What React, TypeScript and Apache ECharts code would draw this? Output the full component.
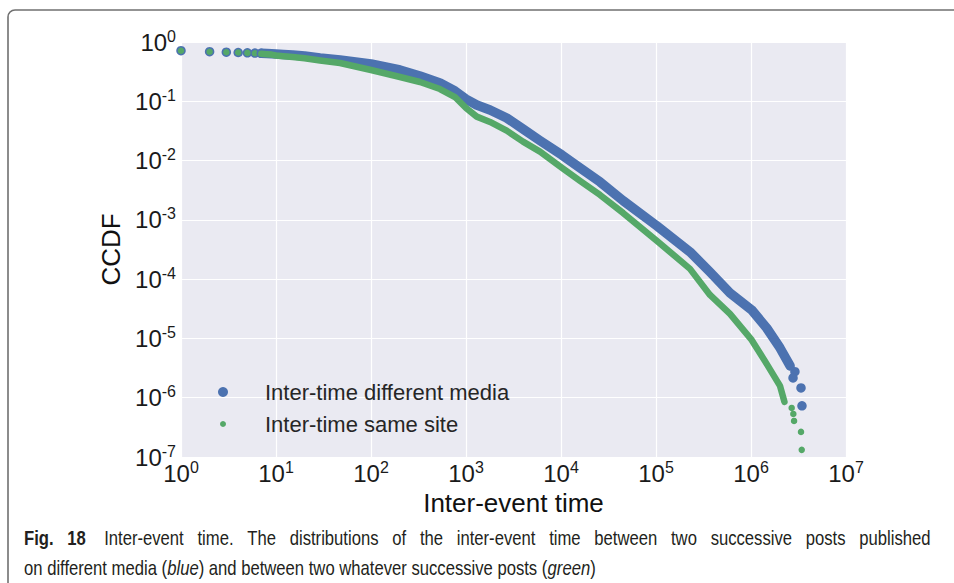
import React, { useEffect, useRef } from "react";
import * as echarts from "echarts";

// ---- data (x: inter-event time, y: CCDF) ----
const blueDotsX = [1, 2, 3, 4, 5, 6, 7, 2900000, 2770000, 3360000, 3440000];
const blueDotsY = [0.713, 0.686, 0.673, 0.665, 0.657, 0.652, 0.645, 2.75e-6, 2.16e-6, 1.46e-6, 7.3e-7];
const blueBandX = [7, 8, 9, 10, 12, 15, 20, 29.1, 47.2, 100, 202, 328, 532, 766, 1000, 1297, 1790, 2682, 3981, 6010, 10240, 15850, 25760, 44980, 102500, 228000, 370000, 601000, 1016000, 1462000, 2020000, 2580000];
const blueBandY = [0.645, 0.637, 0.632, 0.627, 0.616, 0.604, 0.581, 0.537, 0.497, 0.426, 0.337, 0.267, 0.204, 0.149, 0.109, 0.0866, 0.0714, 0.0523, 0.0341, 0.0217, 0.0124, 0.0075, 0.00436, 0.00211, 7.89e-4, 2.88e-4, 1.32e-4, 5.85e-5, 3.03e-5, 1.5e-5, 6.9e-6, 3.44e-6];

const greenDotsX = [1, 2, 3, 4, 5, 6, 7, 2680000, 2790000, 2840000, 3360000, 3420000];
const greenDotsY = [0.713, 0.686, 0.673, 0.665, 0.655, 0.645, 0.632, 6.73e-7, 5.33e-7, 4.06e-7, 2.65e-7, 1.32e-7];
const greenBandX = [7, 8, 9, 10, 12, 15, 20, 29.1, 47.2, 100, 202, 328, 532, 766, 1000, 1297, 1790, 2682, 3981, 6010, 10240, 15850, 25760, 44980, 102500, 228000, 370000, 601000, 1016000, 1462000, 2020000, 2250000];
const greenBandY = [0.632, 0.623, 0.613, 0.592, 0.576, 0.558, 0.531, 0.488, 0.443, 0.337, 0.257, 0.2116, 0.161, 0.118, 0.0771, 0.0551, 0.0448, 0.032, 0.0209, 0.01415, 0.0075, 0.00453, 0.00263, 0.00131, 4.41e-4, 1.49e-4, 5.42e-5, 2.59e-5, 9.44e-6, 3.72e-6, 1.58e-6, 8.5e-7];

const seriesNames = ["Inter-time different media", "Inter-time same site"];
const xAxisTitle = "Inter-event time";
const yAxisTitle = "CCDF";
const captionBoldWords = ["Fig.", "18"];
const captionLine1Words = ["Inter-event", "time.", "The", "distributions", "of", "the", "inter-event", "time", "between", "two", "successive", "posts", "published"];
const captionLine2Parts: [string, boolean][] = [
  ["on different media (", false],
  ["blue", true],
  [") and between two whatever successive posts (", false],
  ["green", true],
  [")", false],
];

const BLUE = "#4C72B0";
const GREEN = "#55A868";
const FONT = '"Liberation Sans", Arial, sans-serif';
const CAP_SIZE = 21;
const CAP_LINE1_WIDTH = 907; // justified first line
const CAP_LINE2_WIDTH = 572; // natural last line

const zip = (xs: number[], ys: number[]) => xs.map((x, i) => [x, ys[i]]);

const expLabel = (v: number) => {
  const e = Math.round(Math.log10(v));
  return `{b|10}{s|${e}}`;
};

const labelRich = {
  b: { fontSize: 24, lineHeight: 28, fontFamily: FONT, color: "#1a1a1a" },
  s: { fontSize: 16, lineHeight: 17, verticalAlign: "top", fontFamily: FONT, color: "#1a1a1a" },
};

function captionLayout() {
  // returns horizontal scale and the justified word gap (unscaled units)
  let k = 0.78;
  let gap = 8;
  let space = 5.8;
  try {
    const ctx = document.createElement("canvas").getContext("2d");
    if (!ctx) return { k, gap, space };
    const m = (t: string, pre: string) => {
      ctx.font = `${pre}${CAP_SIZE}px ${FONT}`;
      return ctx.measureText(t).width;
    };
    const w2 = captionLine2Parts.reduce((s, [t, it]) => s + m(t, it ? "italic " : ""), 0);
    if (w2 > 0) k = CAP_LINE2_WIDTH / w2;
    space = m(" ", "");
    const wb = captionBoldWords.reduce((s, t) => s + m(t, "bold "), 0);
    const wn = captionLine1Words.reduce((s, t) => s + m(t, ""), 0);
    const nGaps = captionBoldWords.length + captionLine1Words.length - 1;
    const g = (CAP_LINE1_WIDTH / k - wb - wn - space) / nGaps;
    if (isFinite(g) && g > 0) gap = g;
  } catch (e) {
    /* keep defaults */
  }
  return { k, gap, space };
}

export default function App() {
  const ref = useRef<HTMLDivElement>(null);
  useEffect(() => {
    document.body.style.margin = "0";
    if (!ref.current) return;
    const chart = echarts.init(ref.current, undefined, { renderer: "svg" });
    const { k, gap, space } = captionLayout();
    const capStyle = { fontSize: CAP_SIZE, fontFamily: FONT, fill: "#231f20" };
    const line1Text =
      `{b|${captionBoldWords[0]}}{bg|${captionBoldWords[1]}}` +
      captionLine1Words.map((w, i) => (i < captionLine1Words.length - 1 ? `{n|${w}}` : `{nl|${w}}`)).join("");
    const line2Text = captionLine2Parts.map(([t, it]) => `{${it ? "i" : "n"}|${t}}`).join("");
    chart.setOption({
      animation: false,
      backgroundColor: "#fff",
      textStyle: { fontFamily: FONT },
      grid: { left: 181, top: 42, width: 665, height: 415, backgroundColor: "#EAEAF2", show: true, borderWidth: 0 },
      xAxis: {
        type: "log",
        logBase: 10,
        min: 1,
        max: 1e7,
        splitNumber: 7,
        axisLine: { show: false },
        axisTick: { show: false },
        splitLine: { show: true, lineStyle: { color: "#ffffff", width: 1.2 } },
        axisLabel: { formatter: expLabel, rich: labelRich, margin: 2 },
        name: xAxisTitle,
        nameLocation: "middle",
        nameGap: 28,
        nameTextStyle: { fontSize: 26, color: "#111", fontFamily: FONT },
      },
      yAxis: {
        type: "log",
        logBase: 10,
        min: 1e-7,
        max: 1,
        splitNumber: 7,
        axisLine: { show: false },
        axisTick: { show: false },
        splitLine: { show: true, lineStyle: { color: "#ffffff", width: 1.2 } },
        axisLabel: { formatter: expLabel, rich: labelRich, margin: 5 },
        name: yAxisTitle,
        nameLocation: "middle",
        nameGap: 47,
        nameTextStyle: { fontSize: 26, color: "#111", fontFamily: FONT },
      },
      legend: [
        {
          data: [{ name: seriesNames[0], icon: "circle" }],
          left: 218,
          top: 381,
          padding: 0,
          itemWidth: 10,
          itemHeight: 10,
          selectedMode: false,
          textStyle: { fontSize: 22, color: "#262626", fontFamily: FONT, padding: [0, 0, 0, 32] },
        },
        {
          data: [{ name: seriesNames[1], icon: "circle" }],
          left: 220,
          top: 413,
          padding: 0,
          itemWidth: 6,
          itemHeight: 6,
          selectedMode: false,
          textStyle: { fontSize: 22, color: "#262626", fontFamily: FONT, padding: [0, 0, 0, 34] },
        },
      ],
      series: [
        {
          name: "blue band",
          type: "line",
          data: zip(blueBandX, blueBandY),
          showSymbol: false,
          symbol: "none",
          lineStyle: { color: BLUE, width: 9.5, cap: "round", join: "round" },
          silent: true,
        },
        {
          name: seriesNames[0],
          type: "scatter",
          data: zip(blueDotsX, blueDotsY),
          symbol: "circle",
          symbolSize: 9.5,
          itemStyle: { color: BLUE, opacity: 1 },
          silent: true,
        },
        {
          name: "green band",
          type: "line",
          data: zip(greenBandX, greenBandY),
          showSymbol: false,
          symbol: "none",
          lineStyle: { color: GREEN, width: 6.5, cap: "round", join: "round" },
          silent: true,
        },
        {
          name: seriesNames[1],
          type: "scatter",
          data: zip(greenDotsX, greenDotsY),
          symbol: "circle",
          symbolSize: 6.5,
          itemStyle: { color: GREEN, opacity: 1 },
          silent: true,
        },
      ],
      graphic: [
        {
          type: "rect",
          silent: true,
          shape: { x: 8, y: 10, width: 1200, height: 1000, r: 7 },
          style: { fill: "none", stroke: "#707070", lineWidth: 1.6 },
        },
        {
          type: "text",
          silent: true,
          x: 24,
          y: 527,
          scaleX: k,
          style: {
            text: line1Text,
            rich: {
              b: { ...capStyle, fontWeight: "bold", padding: [0, gap, 0, 0] },
              bg: { ...capStyle, fontWeight: "bold", padding: [0, gap + space, 0, 0] },
              n: { ...capStyle, padding: [0, gap, 0, 0] },
              nl: { ...capStyle },
            },
            ...capStyle,
          },
        },
        {
          type: "text",
          silent: true,
          x: 24,
          y: 557,
          scaleX: k,
          style: {
            text: line2Text,
            rich: {
              n: { ...capStyle },
              i: { ...capStyle, fontStyle: "italic" },
            },
            ...capStyle,
          },
        },
      ],
    });
    return () => chart.dispose();
  }, []);
  return <div ref={ref} style={{ width: 954, height: 583 }} />;
}
